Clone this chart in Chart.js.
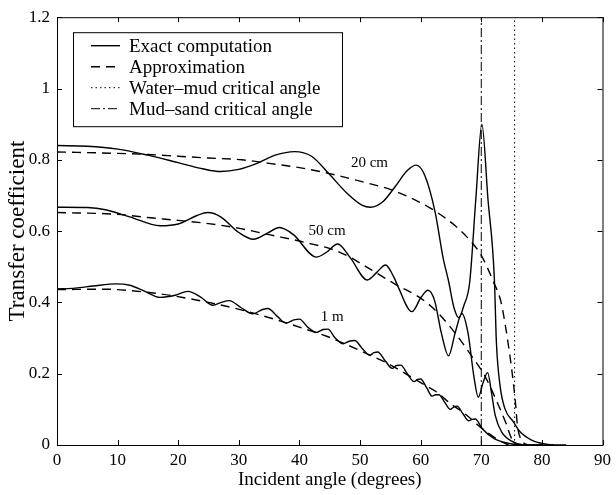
<!DOCTYPE html>
<html>
<head>
<meta charset="utf-8">
<title>Transfer coefficient vs incident angle</title>
<script src="https://cdn.jsdelivr.net/npm/chart.js@4.4.1/dist/chart.umd.min.js"></script>
<style>
  html, body { margin: 0; padding: 0; background: #fff; }
</style>
</head>
<body>
<canvas id="chart" width="616" height="495"></canvas>
<script>
// Transfer coefficient vs incident angle - exact computation and approximation

const FONT = '"Liberation Serif", "Times New Roman", serif';

// Axis ticks
const xTickLabels = ['0', '10', '20', '30', '40', '50', '60', '70', '80', '90'];
const yTickLabels = ['0', '0.2', '0.4', '0.6', '0.8', '1', '1.2'];

// Critical angles (degrees)
const mudSandAngle = 70.0;
const waterMudAngle = 75.5;

const legendLabels = ['Exact computation', 'Approximation', 'Water\u2013mud critical angle', 'Mud\u2013sand critical angle'];
const curveLabels = ['20 cm', '50 cm', '1 m'];

// [angle, transfer coefficient]
const exact20cm = [
  [0, 0.84], [5, 0.838], [10, 0.83], [15, 0.813], [20, 0.792], [24, 0.775], [27, 0.767],
  [30, 0.773], [33, 0.79], [36, 0.813], [39.2, 0.823], [42, 0.81], [44.8, 0.762],
  [47.8, 0.707], [50.3, 0.673], [51.7, 0.667], [53.8, 0.683], [55.8, 0.725], [57.8, 0.77],
  [59.3, 0.785], [60.7, 0.755], [62.4, 0.652], [63.7, 0.525], [64.6, 0.46], [65.5, 0.385],
  [66.3, 0.357], [67.1, 0.39], [68.1, 0.458], [69.1, 0.69], [70.1, 0.9], [71.1, 0.69],
  [72.15, 0.47], [72.5, 0.286], [73.1, 0.166], [73.9, 0.102], [75.3, 0.065], [76.4, 0.037],
  [78.3, 0.014], [80.5, 0.003], [82, 0], [84, 0]
];
const approx20cm = [
  [0, 0.822], [10, 0.818], [15, 0.815], [20, 0.81], [25, 0.805], [30.5, 0.8], [35, 0.79],
  [40, 0.778], [44.8, 0.762], [50, 0.74], [55.3, 0.715], [59.6, 0.683], [62.4, 0.656],
  [65.7, 0.615], [68.4, 0.569], [70, 0.532], [72, 0.458], [73.2, 0.405], [73.9, 0.343],
  [75, 0.215], [75.6, 0.125], [76, 0.05], [76.7, 0.012], [77.7, 0]
];
const exact50cm = [
  [0, 0.667], [5, 0.666], [8, 0.66], [12, 0.64], [17, 0.615], [20, 0.62], [23, 0.643],
  [24.9, 0.652], [27, 0.64], [30, 0.596], [32.4, 0.577], [34.8, 0.595], [36.7, 0.61],
  [39, 0.59], [42.8, 0.527], [44.4, 0.54], [46.3, 0.564], [48.4, 0.525], [51.2, 0.463],
  [52.8, 0.485], [54.2, 0.505], [55.6, 0.47], [56.3, 0.443], [58.55, 0.374], [60.1, 0.415],
  [61.2, 0.434], [62.3, 0.405], [63.4, 0.315], [64.6, 0.25], [65.7, 0.315], [66.8, 0.369],
  [67.8, 0.315], [68.8, 0.19], [69.5, 0.134], [70.3, 0.175], [71.05, 0.203], [71.7, 0.145],
  [72.3, 0.083], [73.35, 0.037], [75.1, 0.01], [77, 0], [82, 0]
];
const approx50cm = [
  [0, 0.652], [10, 0.647], [15, 0.638], [20, 0.63], [25, 0.621], [30.3, 0.607], [35, 0.59],
  [41, 0.568], [46.5, 0.542], [52, 0.49], [55.7, 0.452], [59.6, 0.416], [61.8, 0.388],
  [64.7, 0.335], [68.4, 0.25], [70.6, 0.193], [72.8, 0.113], [74.1, 0.06], [75, 0.018],
  [75.7, 0]
];
const exact1m = [
  [0, 0.438], [3, 0.44], [6, 0.446], [9.8, 0.452], [12, 0.448], [14.5, 0.431], [17, 0.414],
  [19.5, 0.42], [21.6, 0.431], [23.7, 0.415], [25.7, 0.392], [27.1, 0.4], [28.4, 0.405],
  [30.4, 0.385], [32.3, 0.368], [33.9, 0.38], [34.8, 0.383], [36.4, 0.36], [37.8, 0.342],
  [39.1, 0.351], [40, 0.353], [41.4, 0.33], [42.8, 0.316], [43.9, 0.324], [44.7, 0.325],
  [45.9, 0.3], [47.2, 0.284], [48.2, 0.291], [49.1, 0.293], [50.4, 0.27], [51.6, 0.252],
  [52.3, 0.259], [52.9, 0.261], [54.2, 0.235], [55.3, 0.215], [56, 0.223], [56.7, 0.224],
  [57.8, 0.2], [58.9, 0.178], [59.5, 0.184], [60, 0.185], [61, 0.16], [61.9, 0.137],
  [62.5, 0.141], [63, 0.141], [64, 0.119], [64.9, 0.1], [65.5, 0.107], [66, 0.109],
  [67, 0.087], [67.9, 0.068], [68.5, 0.072], [69, 0.073], [70.2, 0.045], [72.2, 0.017],
  [74.4, 0.005], [76.5, 0], [80, 0]
];
const approx1m = [
  [0, 0.436], [8, 0.437], [12, 0.433], [17, 0.424], [21, 0.413], [25, 0.4], [29, 0.385],
  [33, 0.367], [37, 0.347], [41, 0.325], [44.5, 0.305], [48, 0.28], [51.5, 0.253],
  [55, 0.225], [58, 0.195], [61, 0.165], [62.5, 0.15], [65, 0.115], [67.5, 0.085],
  [69.5, 0.055], [71, 0.035], [73, 0.012], [74.5, 0]
];

// Where the curve labels sit (data coordinates)
const curveLabelAnchors = [[48.5, 0.79], [41.5, 0.60], [43.5, 0.36]];

const toPoints = (pairs) => pairs.map(([x, y]) => ({ x, y }));

const styles = {
  exact: { borderDash: [], borderWidth: 1.4 },
  approx: { borderDash: [9, 6], borderWidth: 1.4 },
  waterMud: { borderDash: [1.5, 3], borderWidth: 1 },
  mudSand: { borderDash: [9, 3, 2, 3], borderWidth: 1 }
};

function curve(pairs, style) {
  return {
    data: toPoints(pairs),
    borderColor: '#000',
    borderWidth: style.borderWidth,
    borderDash: style.borderDash,
    pointRadius: 0,
    cubicInterpolationMode: 'monotone',
    fill: false
  };
}

function verticalLine(angle, style) {
  return {
    data: [{ x: angle, y: 0 }, { x: angle, y: 1.2 }],
    borderColor: '#000',
    borderWidth: style.borderWidth,
    borderDash: style.borderDash,
    pointRadius: 0,
    tension: 0,
    fill: false
  };
}

// Box frame with inward ticks on all four sides
const framePlugin = {
  id: 'frame',
  afterDatasetsDraw(chart) {
    const { ctx, chartArea: a, scales: { x, y } } = chart;
    const len = 5;
    ctx.save();
    ctx.strokeStyle = '#000';
    ctx.lineWidth = 1;
    ctx.strokeRect(a.left + 0.5, a.top + 0.5, a.right - a.left, a.bottom - a.top);
    ctx.beginPath();
    x.ticks.forEach(t => {
      const px = Math.round(x.getPixelForValue(t.value)) + 0.5;
      ctx.moveTo(px, a.bottom); ctx.lineTo(px, a.bottom - len);
      ctx.moveTo(px, a.top); ctx.lineTo(px, a.top + len);
    });
    y.ticks.forEach(t => {
      const py = Math.round(y.getPixelForValue(t.value)) + 0.5;
      ctx.moveTo(a.left, py); ctx.lineTo(a.left + len, py);
      ctx.moveTo(a.right, py); ctx.lineTo(a.right - len, py);
    });
    ctx.stroke();
    ctx.restore();
  }
};

// Legend box inside the plot, top left
const legendPlugin = {
  id: 'legendBox',
  afterDraw(chart) {
    const { ctx, chartArea: a } = chart;
    const left = a.left + 16, top = a.top + 15, w = 269, h = 94;
    const itemStyles = [styles.exact, styles.approx, styles.waterMud, styles.mudSand];
    ctx.save();
    ctx.fillStyle = '#fff';
    ctx.fillRect(left, top, w, h);
    ctx.strokeStyle = '#000';
    ctx.lineWidth = 1;
    ctx.strokeRect(left + 0.5, top + 0.5, w, h);
    ctx.font = '19px ' + FONT;
    ctx.textBaseline = 'alphabetic';
    ctx.fillStyle = '#000';
    legendLabels.forEach((label, i) => {
      const base = top + 20 + i * 21;
      const cy = base - 6.5;
      ctx.beginPath();
      ctx.setLineDash(itemStyles[i].borderDash);
      ctx.lineWidth = itemStyles[i].borderWidth;
      ctx.moveTo(left + 18, cy);
      ctx.lineTo(left + 47, cy);
      ctx.stroke();
      ctx.setLineDash([]);
      ctx.fillText(label, left + 56, base);
    });
    ctx.restore();
  }
};

// "20 cm", "50 cm", "1 m" next to the curves
const curveLabelPlugin = {
  id: 'curveLabels',
  afterDatasetsDraw(chart) {
    const { ctx, scales: { x, y } } = chart;
    ctx.save();
    ctx.font = '15px ' + FONT;
    ctx.fillStyle = '#000';
    ctx.textBaseline = 'middle';
    curveLabels.forEach((label, i) => {
      const [ax, ay] = curveLabelAnchors[i];
      ctx.fillText(label, x.getPixelForValue(ax), y.getPixelForValue(ay));
    });
    ctx.restore();
  }
};

new Chart(document.getElementById('chart'), {
  type: 'scatter',
  data: {
    datasets: [
      curve(exact20cm, styles.exact),
      curve(exact50cm, styles.exact),
      curve(exact1m, styles.exact),
      curve(approx20cm, styles.approx),
      curve(approx50cm, styles.approx),
      curve(approx1m, styles.approx),
      verticalLine(waterMudAngle, styles.waterMud),
      verticalLine(mudSandAngle, styles.mudSand)
    ]
  },
  options: {
    responsive: false,
    animation: false,
    showLine: true,
    devicePixelRatio: 1,
    layout: { padding: { top: 12, right: 11, left: 0, bottom: 0 } },
    plugins: {
      legend: { display: false },
      tooltip: { enabled: false }
    },
    scales: {
      x: {
        type: 'linear',
        min: 0,
        max: 90,
        grid: { display: false, drawTicks: false },
        border: { display: false },
        ticks: {
          stepSize: 10,
          padding: 5,
          color: '#000',
          font: { family: FONT, size: 17 },
          maxRotation: 0,
          callback: (v, i) => xTickLabels[i]
        },
        title: {
          display: true,
          text: 'Incident angle (degrees)',
          color: '#000',
          font: { family: FONT, size: 19 },
          padding: { top: 0, bottom: 4 }
        },
        afterFit: (scale) => { scale.height = 50; }
      },
      y: {
        type: 'linear',
        min: 0,
        max: 1.2,
        grid: { display: false, drawTicks: false },
        border: { display: false },
        ticks: {
          stepSize: 0.2,
          padding: 7,
          color: '#000',
          font: { family: FONT, size: 17 },
          callback: (v) => yTickLabels[Math.round(v / 0.2)]
        },
        title: {
          display: true,
          text: 'Transfer coefficient',
          color: '#000',
          font: { family: FONT, size: 23 },
          padding: { top: 4, bottom: 0 }
        },
        afterFit: (scale) => { scale.width = 57; }
      }
    }
  },
  plugins: [framePlugin, legendPlugin, curveLabelPlugin]
});
</script>
</body>
</html>
